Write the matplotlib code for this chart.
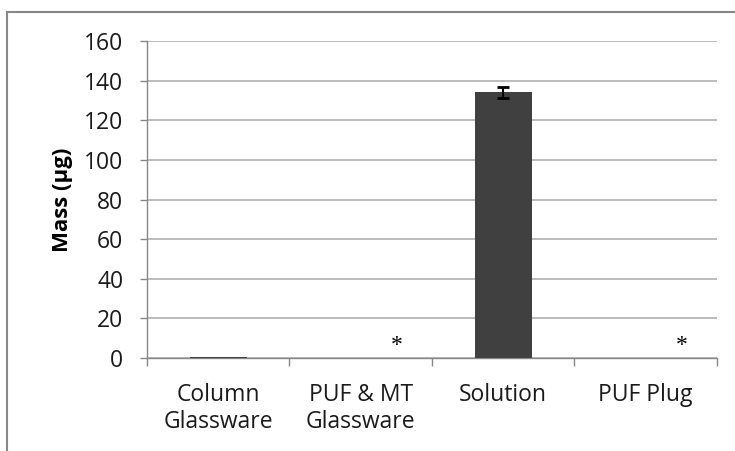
import matplotlib
matplotlib.use("Agg")
import matplotlib.pyplot as plt
from matplotlib.lines import Line2D

# Mass recovered in each fraction
categories = ["Column\nGlassware", "PUF & MT\nGlassware", "Solution", "PUF Plug"]
mass = [0.7, 0.0, 134.2, 0.0]
mass_err = [0.0, 0.0, 2.8, 0.0]
below_detection = [False, True, False, True]
yticks = [0, 20, 40, 60, 80, 100, 120, 140, 160]

plt.rcParams['font.family'] = ['Open Sans', 'DejaVu Sans']

fig = plt.figure(figsize=(7.35, 4.51), dpi=100)
ax = fig.add_axes([0.2, 0.2062, 0.7755, 0.7028])

x = range(len(categories))
ax.bar(x, mass, width=0.4, color='#404040', zorder=3)
ax.errorbar([i for i in x if mass_err[i] > 0], [mass[i] for i in x if mass_err[i] > 0],
            yerr=[e for e in mass_err if e > 0], fmt='none', ecolor='black',
            elinewidth=1.5, capsize=4.5, capthick=2, zorder=4)

# asterisk for fractions below detection limit
for i, flag in enumerate(below_detection):
    if flag:
        ax.text(i + 0.25, 6.5, "*", ha='center', va='center', fontsize=17,
                family='Liberation Serif', zorder=5)

ax.set_xlim(-0.5, len(categories) - 0.5)
ax.set_ylim(0, 160)
ax.set_yticks(yticks)
ax.tick_params(axis='y', labelsize=16.5, length=5, width=1, color='#888888',
               pad=12, labelcolor='#1a1a1a')
ax.set_xticks(list(x))
ax.set_xticklabels(categories, fontsize=16.5, color='#1a1a1a', linespacing=1.15)
ax.set_xticks([i - 0.5 for i in range(len(categories) + 1)], minor=True)
ax.tick_params(axis='x', which='major', length=0, pad=18)
ax.tick_params(axis='x', which='minor', length=6, width=1, color='#888888')
ax.yaxis.grid(True, color='#b0b0b0', linewidth=1.2, zorder=0)
ax.set_axisbelow(True)

for side in ('top', 'right'):
    ax.spines[side].set_visible(False)
for side in ('left', 'bottom'):
    ax.spines[side].set_color('#888888')
    ax.spines[side].set_linewidth(1)

ax.set_ylabel("Mass (µg)", fontsize=16, fontweight='bold', labelpad=8)

# chart frame, top and left edges
fig.add_artist(Line2D([7 / 735, 1.0], [1 - 12 / 451, 1 - 12 / 451],
                      color='#888888', linewidth=1.5))
fig.add_artist(Line2D([7 / 735, 7 / 735], [0.0, 1 - 12 / 451],
                      color='#888888', linewidth=1.5))

fig.savefig("out.png", dpi=100)
